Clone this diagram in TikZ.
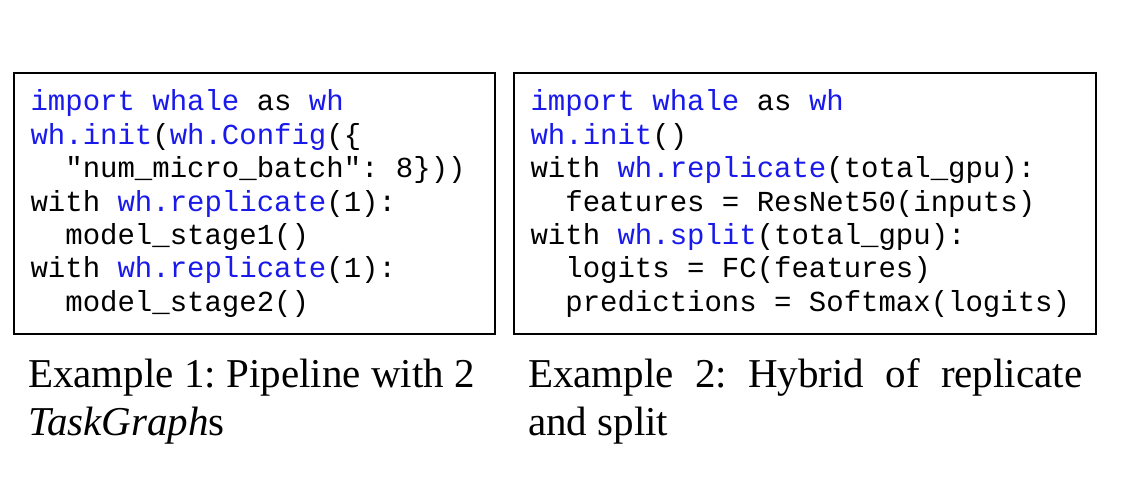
\documentclass[tikz,border=0pt]{standalone}
\usepackage{fontspec}
\setmainfont{Liberation Serif}
\setmonofont{Liberation Mono}
\usetikzlibrary{positioning,calc}
\definecolor{kwblue}{RGB}{25,25,235}
\newcommand{\kw}[1]{\textcolor{kwblue}{#1}}
\newcommand{\ind}{\phantom{xx}}
\tikzset{
  codebox/.style={draw, line width=1.3pt, minimum width=481pt, minimum height=261pt, inner sep=0pt},
  codeline/.style={anchor=base west, inner sep=0pt, font=\fontsize{29}{33}\selectfont\ttfamily\frenchspacing},
  capline/.style={anchor=base west, inner sep=0pt, font=\fontsize{41}{48}\selectfont\frenchspacing}
}

\begin{document}
\begin{tikzpicture}[x=1pt,y=-1pt]
\useasboundingbox (0,0) rectangle (1123,485);
% the two listings
\node[codebox] (boxL) at (254.5,203.5) {};
\node[codebox, minimum width=582pt] (boxR) at (805,203.5) {};
\foreach \txt [count=\i] in {{\kw{import} \kw{whale} as \kw{wh}}, {\kw{wh.init}(\kw{wh.Config}(\{}, {\ind"num\_micro\_batch": 8\}))}, {with \kw{wh.replicate}(1):}, {\ind model\_stage1()}, {with \kw{wh.replicate}(1):}, {\ind model\_stage2()}}
  \node[codeline] (L\i) at ($(boxL.north west)+(17,38.5+33.4*\i-33.4)$) {\txt};
\foreach \txt [count=\i] in {{\kw{import} \kw{whale} as \kw{wh}}, {\kw{wh.init}()}, {with \kw{wh.replicate}(total\_gpu):}, {\ind features = ResNet50(inputs)}, {with \kw{wh.split}(total\_gpu):}, {\ind logits = FC(features)}, {\ind predictions = Softmax(logits)}}
  \node[codeline] (R\i) at ($(boxR.north west)+(17,38.5+33.4*\i-33.4)$) {\txt};
% captions
\node[capline] (capL1) at (28,387) {Example 1: Pipeline with 2};
\node[capline] (capL2) at ($(capL1.base west)+(0,48)$) {\textit{TaskGraph}s};
\node[capline] (capR1) at (528,387) {\makebox[554pt][s]{Example 2: Hybrid of replicate}};
\node[capline] (capR2) at ($(capR1.base west)+(0,48)$) {and split};
\end{tikzpicture}
\end{document}
